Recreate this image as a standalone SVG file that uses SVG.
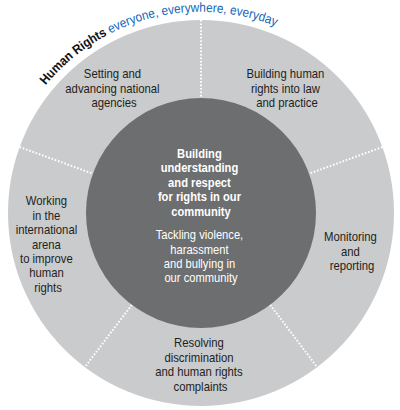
<svg xmlns="http://www.w3.org/2000/svg" width="400" height="410" viewBox="0 0 400 410">
<style>
.ring{fill:#cacbcd}
.core{fill:#6d6e70}
.div{stroke:#ffffff;stroke-width:2;stroke-dasharray:1.6 1.8;fill:none}
.lbl{font-family:"Liberation Sans",Arial,sans-serif;font-size:13px;fill:#231f20;text-anchor:middle}
.cb{font-family:"Liberation Sans",Arial,sans-serif;font-size:13px;font-weight:bold;fill:#ffffff;text-anchor:middle}
.cr{font-family:"Liberation Sans",Arial,sans-serif;font-size:13px;fill:#ffffff;text-anchor:middle}
.title{font-family:"Liberation Sans",Arial,sans-serif;font-size:13px}
</style>
<defs>
<path id="arc" d="M 45.6 85.3 A 201 201 0 0 1 355 83.8"/>
</defs>
<rect width="400" height="410" fill="#ffffff"/>
<g id="ring">
<circle class="ring" cx="201" cy="213" r="193"/>
</g>
<g id="connectors">
<line class="div" x1="201" y1="20" x2="201" y2="98"/>
<line class="div" x1="19.6" y1="147" x2="92.9" y2="173.7"/>
<line class="div" x1="382.4" y1="147" x2="309.1" y2="173.7"/>
<line class="div" x1="270.2" y1="304.8" x2="317.1" y2="367.1"/>
<line class="div" x1="131.8" y1="304.8" x2="84.9" y2="367.1"/>
</g>
<g id="center">
<circle class="core" cx="201" cy="213" r="115"/>
<text class="cb" transform="translate(201 0) scale(0.86 1)">
<tspan x="0" y="158">Building</tspan>
<tspan x="0" y="172.5">understanding</tspan>
<tspan x="0" y="187">and respect</tspan>
<tspan x="0" y="201.5">for rights in our</tspan>
<tspan x="0" y="216">community</tspan>
</text>
<text class="cr" transform="translate(201 0) scale(0.86 1)">
<tspan x="0" y="239.5">Tackling violence,</tspan>
<tspan x="0" y="254">harassment</tspan>
<tspan x="0" y="268">and bullying in</tspan>
<tspan x="0" y="282.5">our community</tspan>
</text>
</g>
<g id="setting">
<text class="lbl" transform="translate(114 0) scale(0.87 1)">
<tspan x="0" y="78.5">Setting and</tspan>
<tspan x="0" y="93">advancing national</tspan>
<tspan x="0" y="107.5">agencies</tspan>
</text>
</g>
<g id="building">
<text class="lbl" transform="translate(287 0) scale(0.87 1)">
<tspan x="0" y="78.5">Building human</tspan>
<tspan x="0" y="93">rights into law</tspan>
<tspan x="0" y="107.5">and practice</tspan>
</text>
</g>
<g id="monitoring">
<text class="lbl" transform="translate(352 0) scale(0.87 1)">
<tspan x="0" y="241.5">Monitoring</tspan>
<tspan x="0" y="256">and</tspan>
<tspan x="0" y="270.5">reporting</tspan>
</text>
</g>
<g id="resolving">
<text class="lbl" transform="translate(200.5 0) scale(0.87 1)">
<tspan x="0" y="347.5">Resolving</tspan>
<tspan x="0" y="362">discrimination</tspan>
<tspan x="0" y="376.5">and human rights</tspan>
<tspan x="0" y="391">complaints</tspan>
</text>
</g>
<g id="working">
<text class="lbl" transform="translate(48 0) scale(0.87 1)">
<tspan x="0" y="205.5">Working</tspan>
<tspan x="0" y="219.9">in the</tspan>
<tspan x="0" y="234.3">international</tspan>
<tspan x="0" y="248.7">arena</tspan>
<tspan x="0" y="263.1">to improve</tspan>
<tspan x="0" y="277.5">human</tspan>
<tspan x="0" y="291.9">rights</tspan>
</text>
</g>
<g id="title">
<text class="title"><textPath href="#arc" textLength="254" lengthAdjust="spacingAndGlyphs"><tspan font-weight="bold" fill="#111111">Human Rights</tspan><tspan fill="#1565b8"> everyone, everywhere, everyday</tspan></textPath></text>
</g>
</svg>
